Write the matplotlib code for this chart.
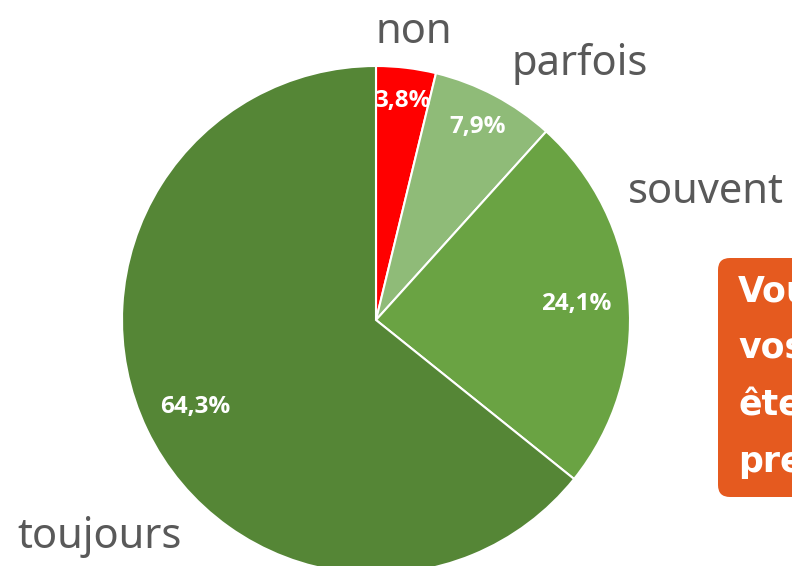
import numpy as np
import matplotlib
matplotlib.use("Agg")
import matplotlib.pyplot as plt
from matplotlib.patches import FancyBboxPatch

categories = ["non", "parfois", "souvent", "toujours"]
values = [3.8, 7.9, 24.1, 64.3]
colors = ["#ff0000", "#8fbb78", "#6aa343", "#558636"]
pct_labels = ["3,8%", "7,9%", "24,1%", "64,3%"]
box_lines = ["Vous", "vos", "êtes", "presque"]

fig = plt.figure(figsize=(7.92, 5.66), dpi=100)
ax = fig.add_axes([0, 0, 1, 1])

cx, cy, r = 376, 246, 254
wedges, _ = ax.pie(values, colors=colors, startangle=90, counterclock=False,
                   center=(cx, cy), radius=r,
                   wedgeprops=dict(edgecolor="white", linewidth=1.5))

# pourcentages dans les parts
rad = [0.87, 0.86, 0.79, 0.79]
for w, lab, f in zip(wedges, pct_labels, rad):
    ang = np.deg2rad((w.theta1 + w.theta2) / 2)
    ax.text(cx + f * r * np.cos(ang), cy + f * r * np.sin(ang), lab,
            ha="center", va="center", color="white", fontsize=17.5,
            fontweight="bold", family="Open Sans")

# étiquettes extérieures
lab_pos = [(414, 534), (580, 502), (706, 374), (100, 29)]
for name, (x, y) in zip(categories, lab_pos):
    ax.text(x, y, name, ha="center", va="center", fontsize=30,
            color="#595959", family="Noto Sans", fontweight="light")

# encadré orange (coupé à droite)
box = FancyBboxPatch((718, 69), 200, 239, boxstyle="round,pad=0,rounding_size=12",
                     facecolor="#e55a1f", edgecolor="none", clip_on=False)
ax.add_patch(box)
for i, t in enumerate(box_lines):
    ax.text(738, 275 - i * 57, t, ha="left", va="center", fontsize=25,
            fontweight="bold", color="white", family="DejaVu Sans")

ax.set_xlim(0, 792)
ax.set_ylim(0, 566)
ax.set_aspect("equal")
ax.axis("off")

fig.savefig("out.png", dpi=100)
